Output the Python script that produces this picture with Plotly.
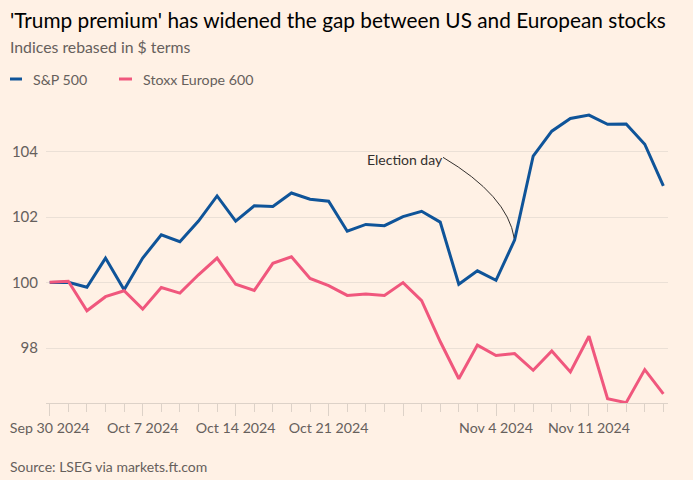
import plotly.graph_objects as go

# ---- data ----
dates = ["2024-09-30", "2024-10-01", "2024-10-02", "2024-10-03", "2024-10-04",
         "2024-10-07", "2024-10-08", "2024-10-09", "2024-10-10", "2024-10-11",
         "2024-10-14", "2024-10-15", "2024-10-16", "2024-10-17", "2024-10-18",
         "2024-10-21", "2024-10-22", "2024-10-23", "2024-10-25",
         "2024-10-28", "2024-10-29", "2024-10-30", "2024-10-31", "2024-11-01",
         "2024-11-04", "2024-11-05", "2024-11-06", "2024-11-07", "2024-11-08",
         "2024-11-11", "2024-11-12", "2024-11-13", "2024-11-14", "2024-11-15"]

sp500 = [100.00, 100.01, 99.86, 100.75, 99.78,
         100.75, 101.46, 101.25, 101.88, 102.65,
         101.88, 102.35, 102.33, 102.74, 102.55,
         102.49, 101.57, 101.78, 101.74,
         102.02, 102.18, 101.85, 99.95, 100.36,
         100.07, 101.30, 103.87, 104.63, 105.02,
         105.12, 104.84, 104.85, 104.23, 102.96]

stoxx600 = [100.01, 100.04, 99.14, 99.57, 99.75,
            99.19, 99.85, 99.68, 100.24, 100.75,
            99.95, 99.76, 100.59, 100.79, 100.13,
            99.91, 99.61, 99.65, 99.61,
            100.00, 99.45, 98.20, 97.06, 98.09,
            97.77, 97.83, 97.32, 97.91, 97.27,
            98.36, 96.45, 96.33, 97.34, 96.60]

series_names = ["S&P 500", "Stoxx Europe 600"]
tick_dates = ["2024-09-30", "2024-10-07", "2024-10-14", "2024-10-21",
              "2024-10-28", "2024-11-04", "2024-11-11"]
tick_labels = ["Sep 30 2024", "Oct 7 2024", "Oct 14 2024", "Oct 21 2024",
               "", "Nov 4 2024", "Nov 11 2024"]
y_ticks = [98, 100, 102, 104]
election_date = "2024-11-05"

# ---- style ----
BG = "#fff1e5"
BLUE = "#0f5499"
PINK = "#f0577d"
DARK = "#33302e"
GREY = "#66605c"
GRID = "#ebe0d6"
FONT = "Lato"

W, H = 693, 480
ML, MR, MT, MB = 46, 25, 105, 77
PW, PH = W - ML - MR, H - MT - MB


def px_x(px):
    return (px - ML) / PW


def px_y(py):
    return (H - MB - py) / PH


idx = list(range(len(dates)))
tickvals = [dates.index(d) for d in tick_dates]

fig = go.Figure()
fig.add_trace(go.Scatter(x=idx, y=sp500, mode="lines", name=series_names[0],
                         line=dict(color=BLUE, width=3), customdata=dates,
                         hovertemplate="%{customdata}: %{y:.2f}<extra>S&P 500</extra>"))
fig.add_trace(go.Scatter(x=idx, y=stoxx600, mode="lines", name=series_names[1],
                         line=dict(color=PINK, width=3), customdata=dates,
                         hovertemplate="%{customdata}: %{y:.2f}<extra>Stoxx Europe 600</extra>"))

fig.update_xaxes(
    range=[-0.2, 33.25], tickmode="array", tickvals=tickvals, ticktext=tick_labels,
    ticks="outside", ticklen=12, tickcolor="#ddd2c8", tickwidth=1,
    showline=True, linecolor="#ddd2c8", linewidth=1,
    showgrid=False, zeroline=False, automargin=False,
    tickfont=dict(family=FONT, size=14.2, color=GREY),
    minor=dict(ticks="outside", ticklen=8, tickcolor="#ddd2c8", dtick=1, tick0=0, showgrid=False),
)
fig.update_yaxes(
    range=[96.32, 105.43], tickmode="array", tickvals=y_ticks,
    showgrid=True, gridcolor=GRID, gridwidth=1, zeroline=False, showline=False,
    ticks="outside", ticklen=4, tickcolor="rgba(0,0,0,0)", automargin=False,
    tickfont=dict(family=FONT, size=15, color=GREY),
)

annotations = [
    dict(text="'Trump premium' has widened the gap between US and European stocks",
         x=px_x(8), y=px_y(20), xref="paper", yref="paper", xanchor="left", yanchor="middle",
         showarrow=False, font=dict(family=FONT, size=20.8, color="#000000")),
    dict(text="Indices rebased in $ terms",
         x=px_x(8), y=px_y(47), xref="paper", yref="paper", xanchor="left", yanchor="middle",
         showarrow=False, font=dict(family=FONT, size=15.8, color=GREY)),
    dict(text=series_names[0],
         x=px_x(31), y=px_y(79), xref="paper", yref="paper", xanchor="left", yanchor="middle",
         showarrow=False, font=dict(family=FONT, size=14.2, color=GREY)),
    dict(text=series_names[1],
         x=px_x(141), y=px_y(79), xref="paper", yref="paper", xanchor="left", yanchor="middle",
         showarrow=False, font=dict(family=FONT, size=14.2, color=GREY)),
    dict(text="Source: LSEG via markets.ft.com",
         x=px_x(8), y=px_y(466), xref="paper", yref="paper", xanchor="left", yanchor="middle",
         showarrow=False, font=dict(family=FONT, size=14, color=GREY)),
]

# election day annotation
e_idx = dates.index(election_date)
p0 = (21.15, 103.83)
c = (24.62, 102.66)
p2 = (e_idx - 0.02, sp500[e_idx] + 0.06)
annotations.append(dict(text="Election day", x=p0[0] + 0.12, y=p0[1] - 0.08, xref="x", yref="y",
                        xanchor="right", yanchor="middle", showarrow=False,
                        font=dict(family=FONT, size=14, color=DARK)))

shapes = [
    dict(type="path", xref="x", yref="y",
         path=f"M {p0[0]},{p0[1]} Q {c[0]},{c[1]} {p2[0]},{p2[1]}",
         line=dict(color=DARK, width=1)),
    dict(type="line", xref="paper", yref="paper", x0=px_x(10), x1=px_x(22), y0=px_y(79), y1=px_y(79),
         line=dict(color=BLUE, width=3)),
    dict(type="line", xref="paper", yref="paper", x0=px_x(119), x1=px_x(132), y0=px_y(79), y1=px_y(79),
         line=dict(color=PINK, width=3)),
]

fig.update_layout(
    width=W, height=H, paper_bgcolor=BG, plot_bgcolor=BG,
    margin=dict(l=ML, r=MR, t=MT, b=MB),
    showlegend=False, annotations=annotations, shapes=shapes,
    font=dict(family=FONT, color=GREY),
)

fig.write_html("out.html", config={"displayModeBar": False},
               post_script="document.body.style.margin='0';document.body.style.overflow='hidden';")
